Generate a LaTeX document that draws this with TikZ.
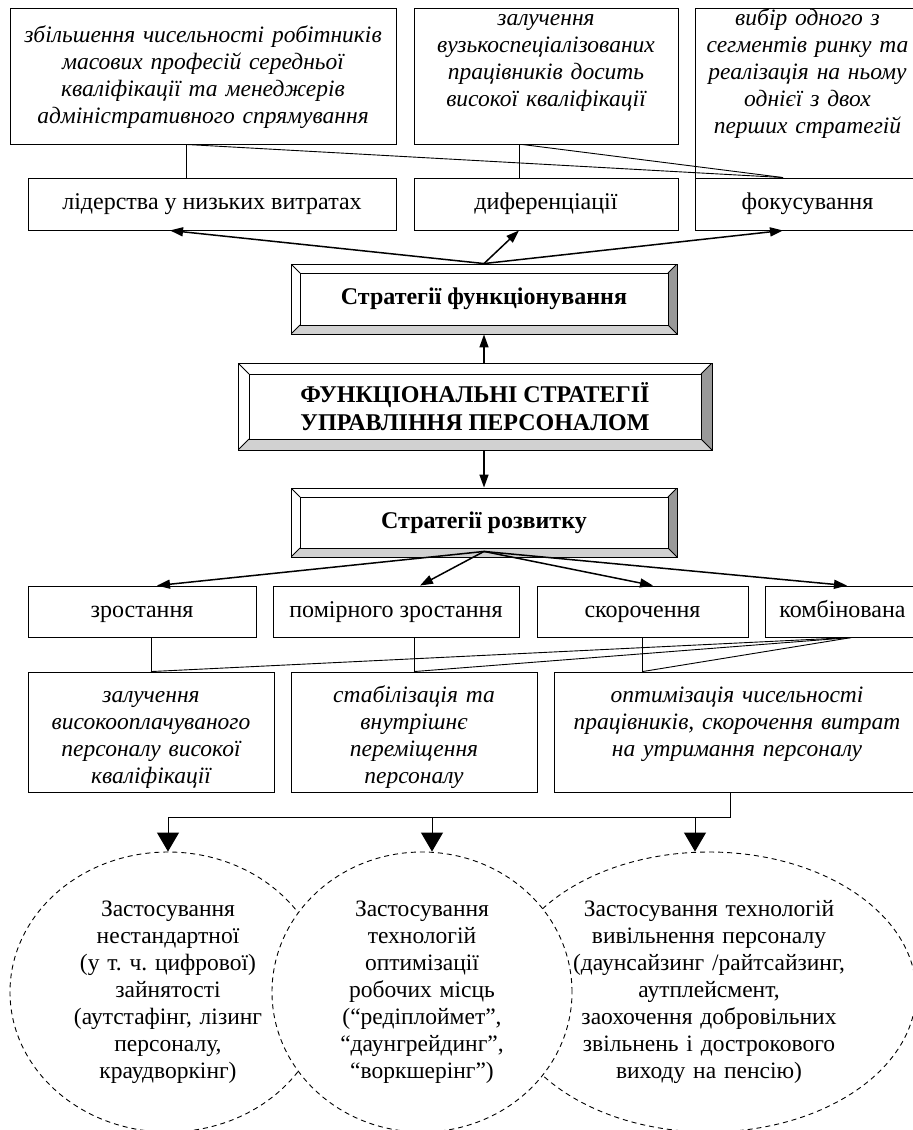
\documentclass[tikz,border=0pt]{standalone}
\usepackage{fontspec}
\setmainfont{Liberation Serif}
\usetikzlibrary{shapes.geometric, arrows.meta}

\begin{document}
\frenchspacing
\begin{tikzpicture}[x=1pt, y=-1pt,
  every node/.style={font=\fontsize{23.5}{27}\selectfont, inner sep=0pt},
  rect/.style={draw, line width=0.9pt, fill=white},
  lbl/.style={rect, font=\fontsize{24}{27}\selectfont, text height=17pt, text depth=6pt},
  itxt/.style={font=\fontsize{23.5}{27}\selectfont\itshape, align=center, execute at begin node=\strut},
  bevel/.style={rect, font=\fontsize{24}{28}\selectfont\bfseries, align=center,
    path picture={
      \coordinate (bSW) at (path picture bounding box.south west);
      \coordinate (bSE) at (path picture bounding box.south east);
      \coordinate (bNE) at (path picture bounding box.north east);
      \coordinate (bNW) at (path picture bounding box.north west);
      \fill[black!18] (bSW) -- (bSE) -- ([shift={(-#1pt,#1pt)}]bSE) -- ([shift={(#1pt,#1pt)}]bSW) -- cycle;
      \fill[black!40] (bSE) -- (bNE) -- ([shift={(-#1pt,-#1pt)}]bNE) -- ([shift={(-#1pt,#1pt)}]bSE) -- cycle;
      \draw[line width=0.9pt] ([shift={(#1pt,#1pt)}]bSW) rectangle ([shift={(-#1pt,-#1pt)}]bNE);
      \draw[line width=0.9pt] (bSW) -- ([shift={(#1pt,#1pt)}]bSW) (bSE) -- ([shift={(-#1pt,#1pt)}]bSE)
        (bNE) -- ([shift={(-#1pt,-#1pt)}]bNE) (bNW) -- ([shift={(#1pt,-#1pt)}]bNW);
    }},
  oval/.style={ellipse, draw, fill=white, line width=0.9pt, dash pattern=on 5pt off 4pt, align=center},
  link/.style={line width=0.9pt},
  arr/.style={line width=1.5pt, -{Triangle[length=13pt,width=9pt]}},
  bigarr/.style={line width=1pt, -{Triangle[length=19pt,width=22pt]}}]
  \useasboundingbox (0,0) rectangle (913,1130);
  \node[rect, minimum width=386pt, minimum height=136pt] (tA) at (203,76) {};
  \node[itxt, text width=380pt] (tAtext) at (tA) {збільшення чисельності робітників\\ масових професій середньої\\ кваліфікації та менеджерів\\ адміністративного спрямування};
  \node[rect, minimum width=264pt, minimum height=136pt] (tB) at (546,76) {};
  \node[itxt, text width=260pt, anchor=north] (tBtext) at ([yshift=1pt]tB.north) {залучення\\ вузькоспеціалізованих\\ працівників досить\\ високої кваліфікації};
  \node[rect, minimum width=225pt, minimum height=170pt] (tC) at (807.5,93) {};
  \node[itxt, text width=220pt, anchor=north] (tCtext) at ([yshift=1pt]tC.north) {вибір одного з\\ сегментів ринку та\\ реалізація на ньому\\ однієї з двох\\ перших стратегій};
  \node[lbl, minimum width=368pt, minimum height=52pt] (lid) at (212,204) {лідерства у низьких витратах};
  \node[lbl, minimum width=264pt, minimum height=52pt] (dif) at (546,204) {диференціації};
  \node[lbl, minimum width=225pt, minimum height=52pt] (fok) at (807.5,204) {фокусування};
  \draw[link] ([xshift=-26pt]lid.north) -- ([xshift=-26pt]lid.north |- tA.south);
  \draw[link] ([xshift=-27pt]dif.north) -- ([xshift=-27pt]dif.north |- tB.south);
  \draw[link] ([xshift=-26pt]lid.north |- tA.south) -- ([xshift=-24.5pt]fok.north);
  \draw[link] ([xshift=-24pt]dif.north |- tB.south) -- ([xshift=-24.5pt]fok.north);
  \node[bevel=9, minimum width=386pt, minimum height=70pt] (sf) at (484,299) {Стратегії функціонування};
  \node[bevel=11, minimum width=474pt, minimum height=87pt] (main) at (475,406.5) {ФУНКЦІОНАЛЬНІ СТРАТЕГІЇ\\ УПРАВЛІННЯ ПЕРСОНАЛОМ};
  \node[bevel=9, minimum width=386pt, minimum height=69pt] (sr) at (484,522.5) {Стратегії розвитку};
  \draw[arr] (sf.north) -- ([xshift=-42pt]lid.south);
  \draw[arr] (sf.north) -- ([xshift=-27pt]dif.south);
  \draw[arr] (sf.north) -- ([xshift=-24.5pt]fok.south);
  \draw[arr] (sf.south |- main.north) -- (sf.south);
  \draw[arr] (sr.north |- main.south) -- (sr.north);
  \node[lbl, minimum width=228pt, minimum height=51pt] (zr) at (142,611.5) {зростання};
  \node[lbl, minimum width=246pt, minimum height=51pt] (pz) at (396,611.5) {помірного зростання};
  \node[lbl, minimum width=211pt, minimum height=51pt] (sk) at (642.5,611.5) {скорочення};
  \node[lbl, minimum width=155pt, minimum height=51pt] (kb) at (842.5,611.5) {комбінована};
  \draw[arr] ([yshift=6pt]sr.south) -- ([xshift=15pt]zr.north);
  \draw[arr] ([yshift=6pt]sr.south) -- ([xshift=24pt]pz.north);
  \draw[arr] ([yshift=6pt]sr.south) -- ([xshift=10.5pt]sk.north);
  \draw[arr] ([yshift=6pt]sr.south) -- ([xshift=4.5pt]kb.north);
  \node[rect, minimum width=246pt, minimum height=120pt] (r4a) at (151,732) {};
  \node[itxt, text width=240pt, anchor=north] (r4atext) at ([yshift=-11.4pt]r4a.north) {залучення\\ високооплачуваного\\ персоналу високої\\ кваліфікації};
  \node[rect, minimum width=246pt, minimum height=120pt] (r4b) at (414,732) {};
  \node[itxt, text width=240pt, anchor=north] (r4btext) at ([yshift=-11.4pt]r4b.north) {стабілізація та\\ внутрішнє\\ переміщення\\ персоналу};
  \node[rect, minimum width=366pt, minimum height=120pt] (r4c) at (737,732) {};
  \node[itxt, text width=360pt, anchor=north] (r4ctext) at ([yshift=-11.4pt]r4c.north) {оптимізація чисельності\\ працівників, скорочення витрат\\ на утримання персоналу};
  \draw[link] (zr.south -| r4a.north) -- (r4a.north);
  \draw[link] (pz.south -| r4b.north) -- (r4b.north);
  \draw[link] (sk.south) -- (sk.south |- r4c.north);
  \draw[link] ([xshift=9.5pt]kb.south) -- (r4a.north);
  \draw[link] ([xshift=9.5pt]kb.south) -- (r4b.north);
  \draw[link] ([xshift=9.5pt]kb.south) -- (sk.south |- r4c.north);
  \node[oval, minimum width=316pt, minimum height=280pt, text width=200pt] (e1) at (168,992) {Застосування\\ нестандартної\\ (у т. ч. цифрової)\\ зайнятості\\ (аутстафінг, лізинг\\ персоналу,\\ краудворкінг)};
  \node[oval, minimum width=414pt, minimum height=280pt, text width=280pt] (e3) at (709,992) {Застосування технологій\\ вивільнення персоналу\\ (даунсайзинг /райтсайзинг,\\ аутплейсмент,\\ заохочення добровільних\\ звільнень і дострокового\\ виходу на пенсію)};
  \node[oval, minimum width=300pt, minimum height=280pt, text width=170pt] (e2) at (422,992) {Застосування\\ технологій\\ оптимізації\\ робочих місць\\ (“редіплоймет”,\\ “даунгрейдинг”,\\ “воркшерінг”)};
  \coordinate (bus1) at (168,817);
  \coordinate (bus2) at (432,817);
  \coordinate (bus3) at (695,817);
  \draw[link] ([xshift=-7pt]r4c.south) |- (bus1);
  \draw[bigarr] (bus1) -- (e1.north);
  \draw[bigarr] (bus2) -- (bus2 |- e2.north);
  \draw[bigarr] (bus3) -- (bus3 |- e3.north);
\end{tikzpicture}
\end{document}
